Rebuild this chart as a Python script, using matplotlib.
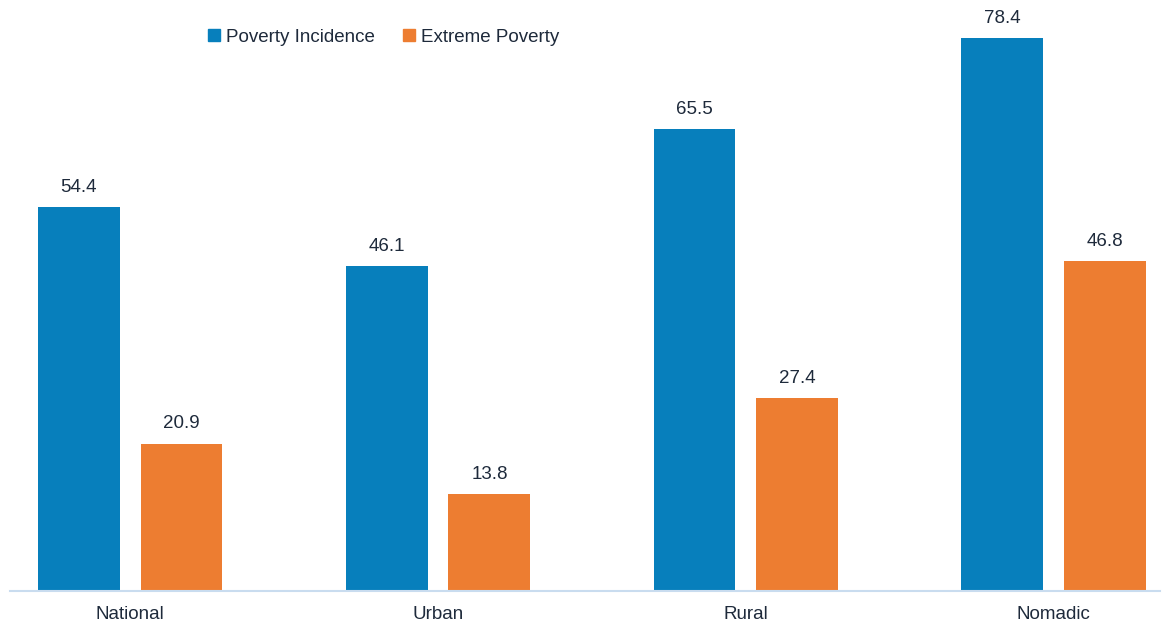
import numpy as np
from matplotlib import pyplot as plt
from matplotlib.patches import Patch

categories = ['National', 'Urban', 'Rural', 'Nomadic']
poverty_incidence = [54.4, 46.1, 65.5, 78.4]
extreme_poverty = [20.9, 13.8, 27.4, 46.8]

blue = '#077fbc'
orange = '#ed7d31'
text_color = '#1e2a3b'

plt.rcParams['font.family'] = ['Liberation Sans', 'DejaVu Sans']

fig = plt.figure(figsize=(11.62, 6.22), dpi=100)
ax = fig.add_axes([10 / 1162, 31 / 622, 1150 / 1162, 591 / 622])

x = np.arange(len(categories))
w = 0.266
off = 0.167
b1 = ax.bar(x - off, poverty_incidence, w, color=blue)
b2 = ax.bar(x + off, extreme_poverty, w, color=orange)

for bars, vals in ((b1, poverty_incidence), (b2, extreme_poverty)):
    for b, v in zip(bars, vals):
        ax.annotate(f'{v:.1f}', (b.get_x() + b.get_width() / 2, v),
                    xytext=(0, 8), textcoords='offset points',
                    ha='center', va='bottom', fontsize=13.5, color=text_color)

ax.set_xlim(-0.39, 3.345)
ax.set_ylim(0, 83.8)
ax.set_xticks(x)
ax.set_xticklabels(categories, fontsize=13.5, color=text_color)
ax.tick_params(axis='x', length=0, pad=11)
ax.set_yticks([])
for s in ['top', 'right', 'left']:
    ax.spines[s].set_visible(False)
ax.spines['bottom'].set_color('#c9dcef')
ax.spines['bottom'].set_linewidth(1.5)

handles = [Patch(color=blue, label='Poverty Incidence'),
           Patch(color=orange, label='Extreme Poverty')]
leg = fig.legend(handles=handles, ncol=2, frameon=False, loc='center left',
                 bbox_to_anchor=(191 / 1162, 1 - 37 / 622), fontsize=13.5,
                 handlelength=0.62, handleheight=0.62, handletextpad=0.35,
                 columnspacing=1.5)
for t in leg.get_texts():
    t.set_color(text_color)

plt.savefig('out.png', dpi=100)
